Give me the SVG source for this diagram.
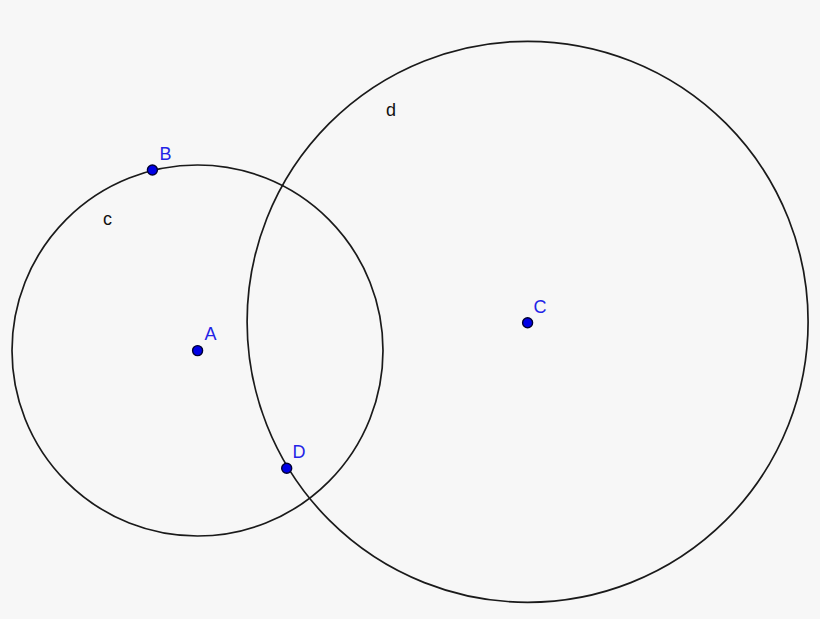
<svg xmlns="http://www.w3.org/2000/svg" width="820" height="619" viewBox="0 0 820 619">
<style>
.circ{fill:none;stroke:#1a1a1a;stroke-width:1.7}
.pt{fill:#0000e6;stroke:#000033;stroke-width:1.4}
.plab{font-family:"Liberation Sans",Arial,sans-serif;font-size:18px;fill:#2323e6}
.clab{font-family:"Liberation Sans",Arial,sans-serif;font-size:18px;fill:#111}
</style>
<rect width="820" height="619" fill="#f7f7f7"/>
<g id="connectors">
<circle id="c" class="circ" cx="197.5" cy="350.5" r="185.5"/>
<circle id="d" class="circ" cx="527.6" cy="321.8" r="280.5"/>
</g>
<g id="label-c"><text class="clab" x="103" y="225">c</text></g>
<g id="label-d"><text class="clab" x="386" y="116">d</text></g>
<g id="node-A"><circle class="pt" cx="197.6" cy="350.6" r="5"/><text class="plab" x="204.5" y="340">A</text></g>
<g id="node-B"><circle class="pt" cx="152.4" cy="170" r="5"/><text class="plab" x="159.5" y="160">B</text></g>
<g id="node-C"><circle class="pt" cx="527.6" cy="322.8" r="5"/><text class="plab" x="533.5" y="313">C</text></g>
<g id="node-D"><circle class="pt" cx="286.7" cy="468.3" r="5"/><text class="plab" x="292.5" y="458">D</text></g>
</svg>
